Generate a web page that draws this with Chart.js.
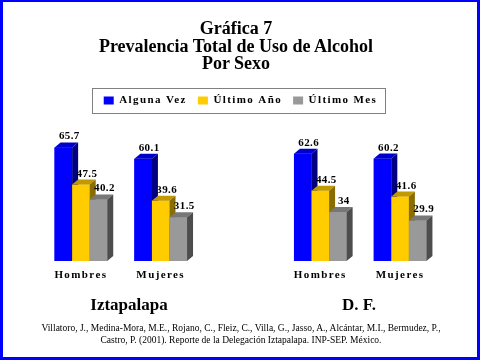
<!DOCTYPE html>
<html>
<head>
<meta charset="utf-8">
<script src="https://cdn.jsdelivr.net/npm/chart.js@4/dist/chart.umd.min.js"></script>
<style>
  html, body { margin: 0; padding: 0; background: #fff; }
  #wrap { position: relative; width: 480px; height: 360px; overflow: hidden; background: #fff; }
  #chartBox { position: absolute; left: 0; top: 0; width: 480px; height: 360px; }
  .txt { position: absolute; font-family: 'Liberation Serif', 'Times New Roman', serif; color: #000; white-space: nowrap; }
  #title { left: 0; width: 472px; top: 20px; text-align: center; font-weight: bold; font-size: 18px; line-height: 17.5px; }
  .grp { top: 295px; font-weight: bold; font-size: 17px; line-height: 20px; text-align: center; width: 160px; }
  #foot { left: 0; width: 482px; top: 323px; text-align: center; font-size: 9.5px; line-height: 11.5px; }
  #frame { position: absolute; left: 0; top: 0; width: 480px; height: 360px; box-sizing: border-box; border-style: solid; border-color: #0000ff; border-width: 2px 3px 3px 3px; pointer-events: none; }
</style>
</head>
<body>
<div id="wrap">
  <div id="chartBox"><canvas id="c"></canvas></div>
  <div id="title" class="txt">Gráfica 7<br>Prevalencia Total de Uso de Alcohol<br>Por Sexo</div>
  <div id="g1" class="txt grp" style="left:49px">Iztapalapa</div>
  <div id="g2" class="txt grp" style="left:279px">D. F.</div>
  <div id="foot" class="txt">Villatoro, J., Medina-Mora, M.E., Rojano, C., Fleiz, C., Villa, G., Jasso, A., Alcántar, M.I., Bermudez, P.,<br>Castro, P. (2001). Reporte de la Delegación Iztapalapa. INP-SEP. México.</div>
  <div id="frame"></div>
</div>
<script>
// ---- data ----
const categories = ['Hombres', 'Mujeres', '', 'Hombres', 'Mujeres'];
const seriesNames = ['Alguna Vez', 'Último Año', 'Último Mes'];
const algunaVez  = [65.7, 60.1, null, 62.6, 60.2];
const ultimoAnio = [47.5, 39.6, null, 44.5, 41.6];
const ultimoMes  = [40.2, 31.5, null, 34, 29.9];
const groupLabels = ['Iztapalapa', 'D. F.'];

// ---- styles ----
const frontColors = ['#0000ff', '#ffcc00', '#999999'];
const topColors   = ['#0000cc', '#c09a00', '#777777'];
const sideColors  = ['#000080', '#8a6d00', '#4d4d4d'];
const DX = 6, DY = 5;
const SPACING = '1.4px';
const FONT_FAMILY = "'Liberation Serif', 'Times New Roman', serif";

Chart.defaults.font.family = FONT_FAMILY;
Chart.defaults.color = '#000';

const spacingPlugin = {
  id: 'spacing',
  beforeLayout(chart) { chart.ctx.letterSpacing = SPACING; },
  beforeDraw(chart) { chart.ctx.letterSpacing = SPACING; }
};

const bars3d = {
  id: 'bars3d',
  afterDatasetsDraw(chart) {
    const ctx = chart.ctx;
    const area = chart.chartArea;
    const metas = chart.data.datasets.map((d, i) => chart.getDatasetMeta(i));
    const n = chart.data.labels.length;
    ctx.save();
    for (let i = 0; i < n; i++) {
      metas.forEach((meta, d) => {
        const el = meta.data[i];
        const v = chart.data.datasets[d].data[i];
        if (!el || v === null || v === undefined) return;
        const l = el.x - el.width / 2, r = el.x + el.width / 2, t = el.y;
        const b = Math.min(el.base, area.bottom);
        ctx.fillStyle = frontColors[d];
        ctx.fillRect(l, t, r - l, b - t);
        ctx.fillStyle = topColors[d];
        ctx.beginPath();
        ctx.moveTo(l, t); ctx.lineTo(l + DX, t - DY); ctx.lineTo(r + DX, t - DY); ctx.lineTo(r, t);
        ctx.closePath(); ctx.fill();
        ctx.fillStyle = sideColors[d];
        ctx.beginPath();
        ctx.moveTo(r, t); ctx.lineTo(r + DX, t - DY); ctx.lineTo(r + DX, b - DY); ctx.lineTo(r, b);
        ctx.closePath(); ctx.fill();
      });
    }
    ctx.letterSpacing = '0.4px';
    ctx.font = 'bold 11px ' + FONT_FAMILY;
    ctx.fillStyle = '#000';
    ctx.textAlign = 'center';
    ctx.textBaseline = 'alphabetic';
    metas.forEach((meta, d) => {
      meta.data.forEach((el, i) => {
        const v = chart.data.datasets[d].data[i];
        if (v === null || v === undefined) return;
        ctx.fillText(String(v), el.x + DX, el.y - DY - 3);
      });
    });
    ctx.restore();
    ctx.letterSpacing = SPACING;
  }
};

const legendBorder = {
  id: 'legendBorder',
  afterDraw(chart) {
    const lg = chart.legend;
    if (!lg || !lg.legendHitBoxes || !lg.legendHitBoxes.length) return;
    const hb = lg.legendHitBoxes;
    let minX = Infinity, maxX = -Infinity, cy = 0;
    hb.forEach(h => { minX = Math.min(minX, h.left); maxX = Math.max(maxX, h.left + h.width); cy = h.top + h.height / 2; });
    const ctx = chart.ctx;
    ctx.save();
    ctx.strokeStyle = '#808080';
    ctx.lineWidth = 1;
    ctx.strokeRect(Math.round(minX - 12) + 0.5, Math.round(cy - 13) + 0.5, Math.round(maxX - minX + 19), 25);
    ctx.restore();
  }
};

new Chart(document.getElementById('c'), {
  type: 'bar',
  data: {
    labels: categories,
    datasets: [
      { label: seriesNames[0], data: algunaVez,  backgroundColor: frontColors[0] },
      { label: seriesNames[1], data: ultimoAnio, backgroundColor: frontColors[1] },
      { label: seriesNames[2], data: ultimoMes,  backgroundColor: frontColors[2] }
    ]
  },
  options: {
    responsive: true,
    maintainAspectRatio: false,
    animation: false,
    layout: { padding: { left: 41, right: 40, top: 84, bottom: 78 } },
    datasets: { bar: { barPercentage: 1, categoryPercentage: 0.66, borderWidth: 0 } },
    scales: {
      x: {
        grid: { display: false, drawTicks: false, tickLength: 0 },
        border: { display: false },
        ticks: { color: '#000', font: { size: 11, weight: 'bold' }, padding: 8, maxRotation: 0, autoSkip: false },
        afterFit(scale) { scale.height = 21; }
      },
      y: { display: false, min: 10, max: 81.1 }
    },
    plugins: {
      legend: {
        position: 'top',
        labels: { boxWidth: 10, boxHeight: 8, padding: 11, font: { size: 11, weight: 'bold' } }
      },
      tooltip: { enabled: false }
    }
  },
  plugins: [spacingPlugin, bars3d, legendBorder]
});
</script>
</body>
</html>
